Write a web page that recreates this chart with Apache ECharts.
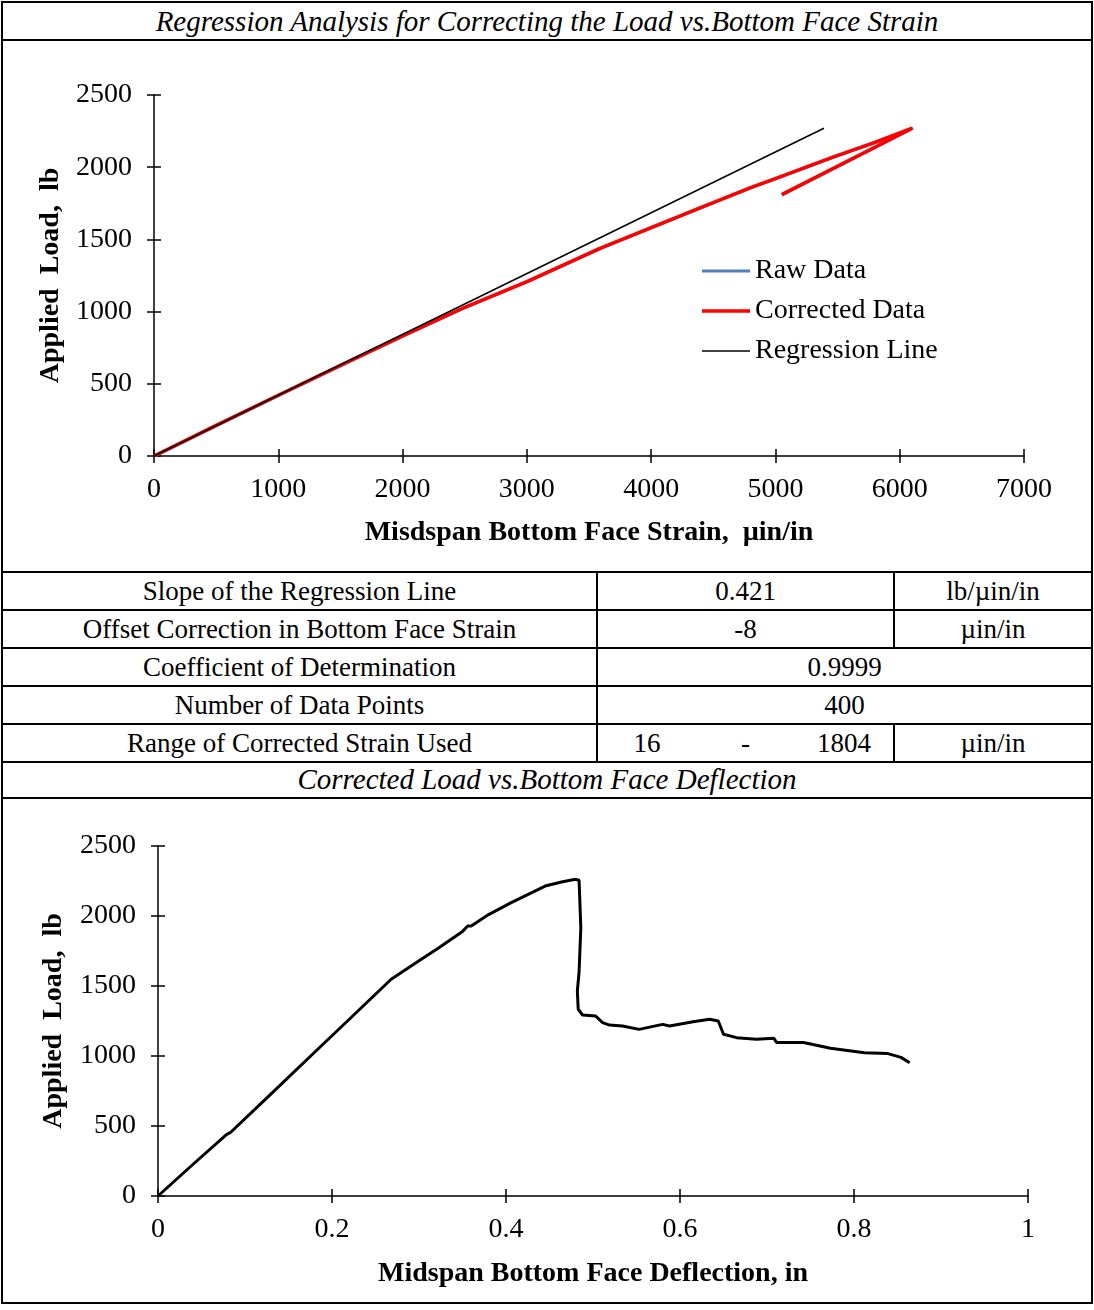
<!DOCTYPE html>
<html>
<head>
<meta charset="utf-8">
<script src="https://cdn.jsdelivr.net/npm/echarts@6.0.0/dist/echarts.min.js"></script>
<style>
  body { margin: 0; background: #fff; font-family: 'Liberation Serif', 'Times New Roman', serif; color: #000; }
  #page { position: relative; width: 1094px; height: 1310px; overflow: hidden; }
  .frame { position: absolute; left: 1px; top: 1px; width: 1092px; height: 1303px; box-sizing: border-box; border: 2px solid #000; }
  .hline { position: absolute; left: 1px; width: 1092px; height: 2px; background: #000; }
  .title { position: absolute; left: 1px; width: 1092px; text-align: center; font-style: italic; font-size: 29px; }
  #chart1 { position: absolute; left: 0; top: 42px; width: 1094px; height: 528px; }
  #chart2 { position: absolute; left: 0; top: 799px; width: 1094px; height: 503px; }
  table { position: absolute; left: 1px; top: 571px; width: 1092px; border-collapse: collapse; table-layout: fixed; font-size: 27px; }
  td { border: 2px solid #000; height: 36px; padding: 0; text-align: center; white-space: nowrap; line-height: 36px; }
</style>
</head>
<body>
<div id="page">
  <div class="frame"></div>
  <div class="title" style="top:3px;height:37px;line-height:37px;">Regression Analysis for Correcting the Load vs.Bottom Face Strain</div>
  <div class="hline" style="top:39px;"></div>
  <div id="chart1"></div>
  <table>
    <colgroup><col style="width:595px"><col style="width:99px"><col style="width:99px"><col style="width:99px"><col style="width:198px"></colgroup>
    <tr><td>Slope of the Regression Line</td><td colspan="3">0.421</td><td>lb/µin/in</td></tr>
    <tr><td>Offset Correction in Bottom Face Strain</td><td colspan="3">-8</td><td>µin/in</td></tr>
    <tr><td>Coefficient of Determination</td><td colspan="4">0.9999</td></tr>
    <tr><td>Number of Data Points</td><td colspan="4">400</td></tr>
    <tr><td>Range of Corrected Strain Used</td><td style="border-right:none">16</td><td style="border-left:none;border-right:none">-</td><td style="border-left:none">1804</td><td>µin/in</td></tr>
  </table>
  <div class="title" style="top:762px;height:35px;line-height:35px;">Corrected Load vs.Bottom Face Deflection</div>
  <div class="hline" style="top:797px;"></div>
  <div id="chart2"></div>
</div>
<script>
// top chart: load vs bottom face strain
const corrStrain = [0, 500, 1000, 1500, 2000, 2500, 3000, 3588, 4000, 4393, 4800, 5010, 5462, 5800, 6100, 5050];
const corrLoad   = [0, 212, 421, 628, 832, 1030, 1208, 1438, 1582, 1718, 1858, 1925, 2070, 2172, 2270, 1810];
const rawStrain  = [8, 508, 1008, 1508, 2008, 2508, 3008, 3596, 4008, 4401, 4808, 5018, 5470, 5808, 6108, 5058];
const rawLoad    = [0, 212, 421, 628, 832, 1030, 1208, 1438, 1582, 1718, 1858, 1925, 2070, 2172, 2270, 1810];
const regStrain  = [0, 5390];
const regLoad    = [0, 2270];
const strainTicks = [0, 7000, 1000];
const loadTicks   = [0, 2500, 500];

// bottom chart: load vs deflection
const deflection = [0, 0.040, 0.079, 0.083, 0.130, 0.180, 0.222, 0.268, 0.300, 0.322, 0.350, 0.356, 0.360, 0.380, 0.406, 0.445, 0.465, 0.480, 0.484,
  0.486, 0.484, 0.482, 0.483, 0.488, 0.503, 0.511, 0.519, 0.534, 0.553, 0.580, 0.588, 0.615, 0.634, 0.644, 0.650, 0.665, 0.688,
  0.708, 0.711, 0.742, 0.773, 0.812, 0.839, 0.854, 0.864];
const defLoad = [0, 225, 440, 452, 730, 1027, 1275, 1548, 1680, 1770, 1890, 1929, 1929, 2010, 2095, 2214, 2245, 2262, 2255,
  1917, 1600, 1464, 1334, 1293, 1286, 1238, 1221, 1214, 1190, 1226, 1214, 1245, 1262, 1250, 1155, 1131, 1119,
  1126, 1096, 1096, 1055, 1024, 1017, 990, 952];
const deflTicks = [0, 1, 0.2];

const FONT = "'Liberation Serif', 'Times New Roman', serif";
const zip = (xs, ys) => xs.map((x, i) => [x, ys[i]]);

// ticks cross the axis line, so each axis is drawn twice: outside ticks + labels, then inside ticks
function axes(dim, ticks, name, nameGap, labelMargin) {
  const pos = dim === 'x' ? 'bottom' : 'left';
  const base = {
    type: 'value', position: pos, min: ticks[0], max: ticks[1], interval: ticks[2],
    splitLine: { show: false }
  };
  return [
    Object.assign({}, base, {
      axisLine: { show: true, onZero: false, lineStyle: { color: '#000', width: 1.5 } },
      axisTick: { show: true, inside: false, length: 7, lineStyle: { color: '#000', width: 1.5 } },
      axisLabel: { margin: labelMargin, color: '#000', fontSize: 28, fontFamily: FONT, formatter: v => String(v) },
      name: name, nameLocation: 'middle', nameGap: nameGap,
      nameTextStyle: { color: '#000', fontSize: 28, fontWeight: 'bold', fontFamily: FONT }
    }),
    Object.assign({}, base, {
      axisLine: { show: false, onZero: false },
      axisTick: { show: true, inside: true, length: 7, lineStyle: { color: '#000', width: 1.5 } },
      axisLabel: { show: false }
    })
  ];
}

const chart1 = echarts.init(document.getElementById('chart1'));
chart1.setOption({
  animation: false,
  grid: { left: 154, right: 70, top: 53, bottom: 114, outerBoundsMode: 'none' },
  xAxis: axes('x', strainTicks, 'Misdspan Bottom Face Strain,  µin/in', 63, 20),
  yAxis: axes('y', loadTicks, 'Applied  Load,  lb', 88, 22),
  legend: {
    orient: 'vertical', left: 702, top: 215, padding: 0,
    itemWidth: 48, itemHeight: 14, itemGap: 12,
    textStyle: { color: '#000', fontSize: 28, fontFamily: FONT },
    data: [
      { name: 'Raw Data', icon: 'path://M0,0H96V6H0Z' },
      { name: 'Corrected Data', icon: 'path://M0,0H96V7H0Z' },
      { name: 'Regression Line', icon: 'path://M0,0H96V3H0Z' }
    ]
  },
  series: [
    { name: 'Raw Data', type: 'line', symbol: 'none', data: zip(rawStrain, rawLoad),
      lineStyle: { color: '#4F81BD', width: 3 }, itemStyle: { color: '#4F81BD' } },
    { name: 'Corrected Data', type: 'line', symbol: 'none', data: zip(corrStrain, corrLoad),
      lineStyle: { color: '#FF0000', width: 3.5 }, itemStyle: { color: '#FF0000' } },
    { name: 'Regression Line', type: 'line', symbol: 'none', data: zip(regStrain, regLoad),
      lineStyle: { color: '#000', width: 1.5 }, itemStyle: { color: '#000' } }
  ]
});

const chart2 = echarts.init(document.getElementById('chart2'));
chart2.setOption({
  animation: false,
  grid: { left: 158, right: 66, top: 47, bottom: 106, outerBoundsMode: 'none' },
  xAxis: axes('x', deflTicks, 'Midspan Bottom Face Deflection, in', 64, 20),
  yAxis: axes('y', loadTicks, 'Applied  Load,  lb', 90, 22),
  series: [
    { name: 'Load', type: 'line', symbol: 'none', data: zip(deflection, defLoad),
      lineStyle: { color: '#000', width: 3 } }
  ]
});
</script>
</body>
</html>
